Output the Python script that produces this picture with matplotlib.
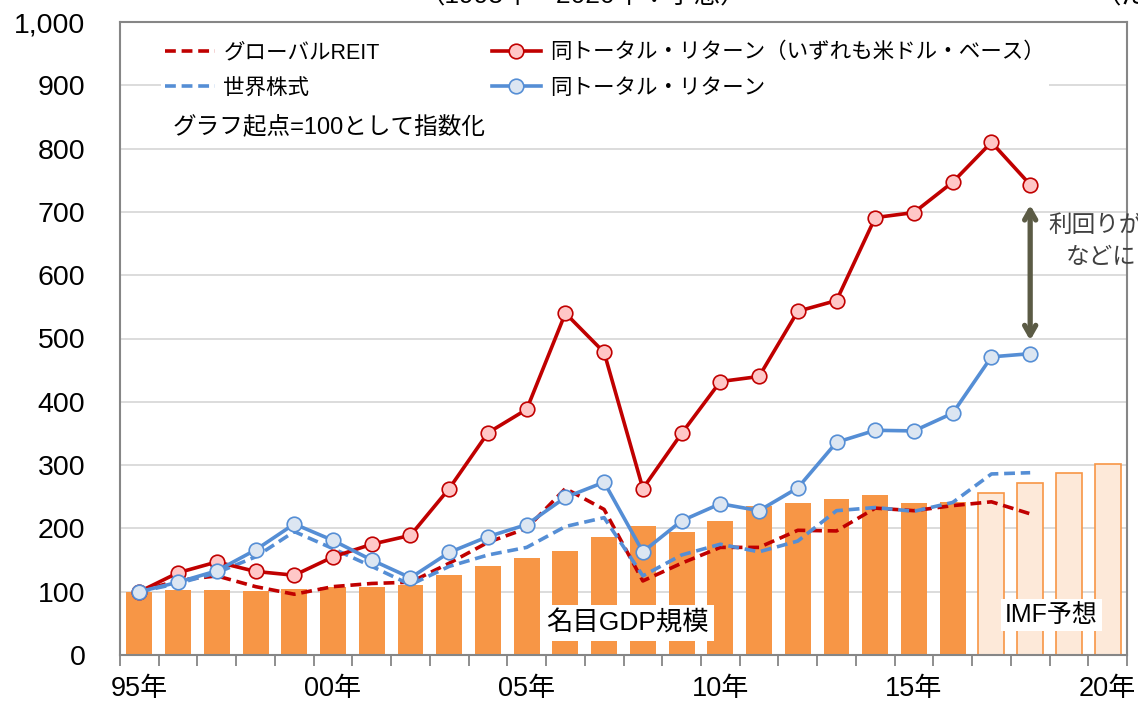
import matplotlib.pyplot as plt
import numpy as np

plt.rcParams['font.family'] = ['Liberation Sans', 'Noto Sans CJK JP', 'DejaVu Sans']

years = list(range(1995, 2021))
xlabels = ['95年', '00年', '05年', '10年', '15年', '20年']

# nominal GDP (index), 2017-2020 are IMF forecasts
gdp = [100, 102, 102, 101, 105, 107, 108, 111, 126, 141, 153, 165, 187, 204,
       194, 212, 235, 240, 246, 253, 240, 242, 256, 272, 287, 301]
n_forecast = 4

# series 1995-2018
reit_price = [100, 118, 125, 108, 96, 108, 113, 115, 145, 178, 200, 263, 230, 117,
              145, 170, 170, 197, 196, 232, 228, 236, 242, 223]
reit_total = [100, 130, 147, 132, 126, 155, 175, 189, 263, 351, 388, 540, 478, 263,
              350, 432, 440, 543, 560, 691, 699, 747, 810, 743]
stock_price = [100, 113, 130, 155, 195, 168, 140, 111, 140, 158, 170, 203, 217, 125,
               158, 175, 163, 180, 228, 233, 227, 241, 286, 288]
stock_total = [100, 115, 133, 166, 207, 181, 150, 122, 162, 187, 206, 249, 273, 163,
               212, 239, 228, 264, 336, 355, 354, 382, 471, 476]

red = '#C00000'
blue = '#558ED5'
orange = '#F79646'

fig = plt.figure(figsize=(11.38, 7.09), dpi=100)
ax = fig.add_axes([120 / 1138, 1 - 655 / 709, 1007 / 1138, 633 / 709])

x = np.arange(len(years))
n_act = len(years) - n_forecast
ax.bar(x[:n_act], gdp[:n_act], width=0.67, color=orange, zorder=2)
ax.bar(x[n_act:], gdp[n_act:], width=0.67, color='#FDE9D9', edgecolor=orange,
       linewidth=1.2, zorder=2)

xl = np.arange(len(reit_total))
dash = (0, (3, 1.6))
ax.plot(xl, reit_price, color=red, lw=2.6, ls=dash, zorder=3, label='グローバルREIT')
ax.plot(xl, stock_price, color=blue, lw=2.6, ls=dash, zorder=3, label='世界株式')
ax.plot(xl, reit_total, color=red, lw=2.6, marker='o', ms=10.5, mfc='#FFC7C7',
        mec=red, mew=1.2, zorder=4, label='同トータル・リターン（いずれも米ドル・ベース）')
ax.plot(xl, stock_total, color=blue, lw=2.6, marker='o', ms=10.5, mfc='#DCE6F2',
        mec=blue, mew=1.2, zorder=4, label='同トータル・リターン')

ax.set_xlim(-0.5, len(years) - 0.5)
ax.set_ylim(0, 1000)
ax.set_yticks(range(0, 1001, 100))
ax.set_yticklabels([f'{v:,}' for v in range(0, 1001, 100)], fontsize=20.5)
ax.tick_params(axis='y', length=0, pad=25)
ax.set_xticks(np.arange(-0.5, len(years), 1))
ax.set_xticklabels([])
ax.tick_params(axis='x', which='major', length=8, color='#868686', width=1.3)
ax.set_xticks(np.arange(0, len(years), 5), minor=True)
ax.set_xticklabels(xlabels, minor=True, fontsize=19.5)
ax.tick_params(axis='x', which='minor', length=0, pad=15)
ax.grid(axis='y', color='#D9D9D9', lw=1.3, zorder=0)
ax.set_axisbelow(True)
for s in ax.spines.values():
    s.set_color('#868686')
    s.set_linewidth(1.5)

handles, labels = ax.get_legend_handles_labels()
leg = ax.legend(handles, labels, ncol=2,
                loc='upper left', bbox_to_anchor=(0.03, 0.992), fontsize=15.5,
                frameon=True, framealpha=1, edgecolor='none', handlelength=2.3,
                handletextpad=0.4, columnspacing=5.2, labelspacing=0.68,
                borderpad=0.2)
leg.set_zorder(5)

ax.text(0.052, 0.835, 'グラフ起点=100として指数化', transform=ax.transAxes,
        fontsize=17, va='center', ha='left', zorder=6)

ax.text(12.6, 50, '名目GDP規模', fontsize=19, ha='center', va='center', zorder=5,
        bbox=dict(facecolor='white', edgecolor='none', pad=4))
ax.text(23.55, 63, 'IMF予想', fontsize=18, ha='center', va='center', zorder=5,
        bbox=dict(facecolor='white', edgecolor='none', pad=3))

ax.annotate('', xy=(23, 711), xytext=(23, 497),
            arrowprops=dict(arrowstyle='<->,head_length=0.7,head_width=0.4',
                            color='#5B5B45', lw=3.8, shrinkA=0, shrinkB=0), zorder=6)
fig.text(1048 / 1138, 1 - 225 / 709, '利回りが加わる', fontsize=17, color='#404040',
         ha='left', va='center')
fig.text(1066 / 1138, 1 - 258 / 709, 'などによる差', fontsize=17, color='#404040',
         ha='left', va='center')

fig.text(583 / 1138, 1 + 4 / 709, '（1995年～2020年：予想）', fontsize=19,
         ha='center', va='center')
fig.text(1095 / 1138, 1 + 4 / 709, '（ただし', fontsize=19, ha='left', va='center')

fig.savefig('out.png', dpi=100)
